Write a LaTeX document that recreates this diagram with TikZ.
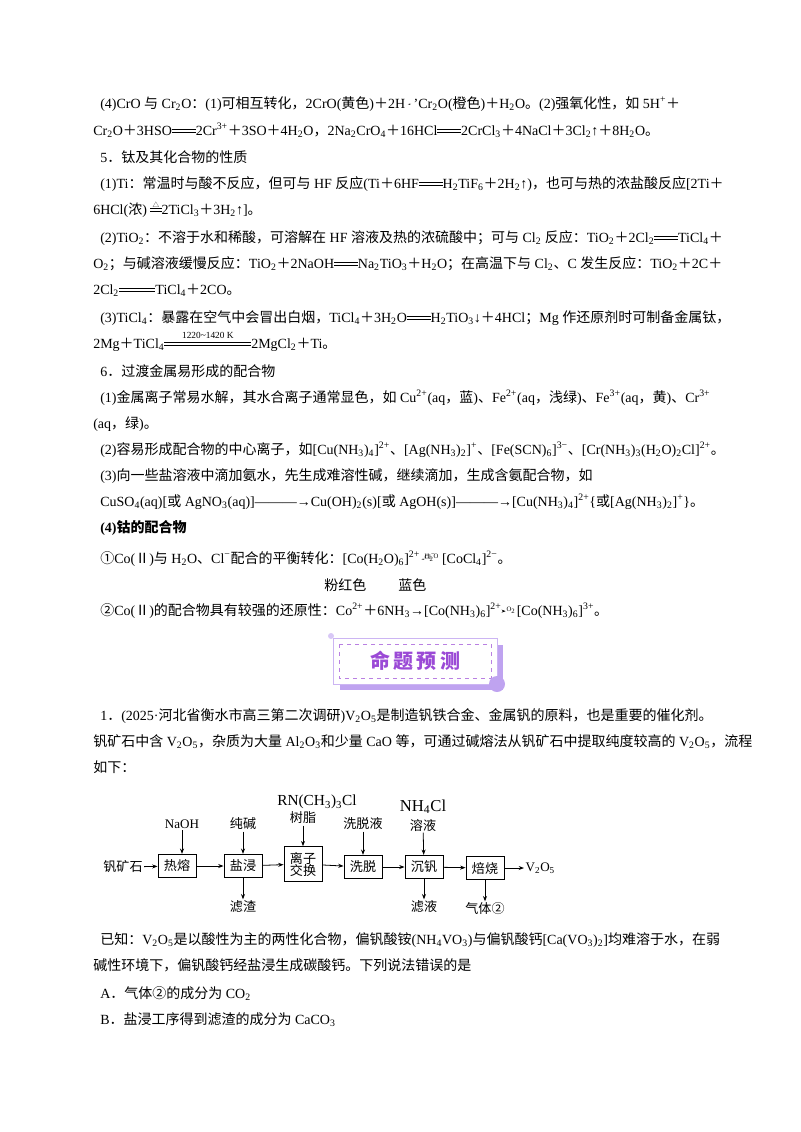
\documentclass[tikz,border=0pt]{standalone}
\usepackage{fontspec}
\usetikzlibrary{arrows.meta}
\setmainfont{Liberation Serif}
\newfontfamily\cjk{Noto Sans CJK SC}
\newXeTeXintercharclass\cjkclass
\newcount\cc
\newcommand\setcjkrange[2]{\cc=#1 \loop\XeTeXcharclass\cc=\cjkclass\relax\ifnum\cc<#2 \advance\cc by 1 \repeat}
\setcjkrange{"3000}{"303F}
\setcjkrange{"4E00}{"9FFF}
\setcjkrange{"FF00}{"FFEF}
\setcjkrange{"2460}{"24FF}
\setcjkrange{"2160}{"216F}
\setcjkrange{"25B3}{"25B3}
\XeTeXinterchartoks 0 \cjkclass = {\cjk}
\XeTeXinterchartoks 4095 \cjkclass = {\cjk}
\XeTeXinterchartoks \cjkclass 0 = {\rmfamily}
\XeTeXinterchartoks \cjkclass 4095 = {\rmfamily}
\XeTeXinterchartoks 4095 0 = {\rmfamily}
\newcommand\dn[1]{\textsubscript{#1}}
\newcommand\up[1]{\textsuperscript{#1}}
\newcommand\pl{{\cjk ＋}}
\newcommand\dbl[1][1.7em]{\raisebox{0.2em}{\rlap{\rule{#1}{0.45pt}}\raisebox{0.22em}{\rule{#1}{0.45pt}}}}
\newcommand\lbleq[2]{\raisebox{0.2em}{\shortstack{{\scriptsize #2}\\[-1pt]\rlap{\rule{#1}{.45pt}}\raisebox{.22em}{\rule{#1}{.45pt}}}}}
\newcommand\heat{\raisebox{0.2em}{\shortstack{{\cjk\tiny △}\\[-3pt]\rlap{\rule{0.8em}{.45pt}}\raisebox{.22em}{\rule{0.8em}{.45pt}}}}}
\newcommand\eqm{\tikz[baseline=-0.6ex]{\draw[line width=.5pt] (0,.05)--(.75,.05)--(.62,.12); \draw[line width=.5pt] (.75,-.03)--(0,-.03)--(.13,-.1);}}
\newcommand\eqCl{\tikz[baseline=-0.6ex]{\draw[line width=.5pt] (0,.05)--(.75,.05)--(.62,.12); \draw[line width=.5pt] (.75,-.03)--(0,-.03)--(.13,-.1);\node[font=\tiny,inner sep=1pt] at (.38,.25){Cl\up{−}};\node[font=\tiny,inner sep=1pt] at (.38,-.2){H\dn2O};}}
\newcommand\arrO{\tikz[baseline=-0.6ex]{\draw[line width=.5pt,-{Stealth[length=3pt]}] (0,0)--(1.1,0);\node[font=\tiny,inner sep=1pt] at (.55,.15){O\dn2};}}
\definecolor{bpurple}{HTML}{9B4AD6}
\definecolor{bshadow}{HTML}{BFA3F0}
\tikzset{
 txt/.style={anchor=base west,inner sep=0pt,font=\fontsize{10.5}{12}\selectfont},
 fc/.style={font=\fontsize{9.8}{11}\selectfont,inner sep=1pt},
 fbox/.style={draw,line width=0.7pt,minimum width=28.5pt,minimum height=17.5pt,inner sep=1pt,font=\fontsize{9.8}{11}\selectfont,align=center},
 farr/.style={line width=0.6pt,-{Stealth[length=4pt,width=3pt]}}
}
\begin{document}
\XeTeXinterchartokenstate=1
\begin{tikzpicture}[x=0.75pt,y=-0.75pt]
\useasboundingbox (0,0) rectangle (800,1132);
\node[txt] (l1) at (100,108) {(4)CrO 与 Cr\dn2O：(1)可相互转化，2CrO(黄色)\pl 2H \eqm\ 'Cr\dn2O(橙色)\pl H\dn2O。(2)强氧化性，如 5H\up+\pl};
\node[txt] (l2) at (93,135) {Cr\dn2O\pl 3HSO\dbl2Cr\up{3+}\pl 3SO\pl 4H\dn2O，2Na\dn2CrO\dn4\pl 16HCl\dbl2CrCl\dn3\pl 4NaCl\pl 3Cl\dn2↑\pl 8H\dn2O。};
\node[txt] (l3) at (100,162) {5．钛及其化合物的性质};
\node[txt] (l4) at (100,188) {(1)Ti：常温时与酸不反应，但可与 HF 反应(Ti\pl 6HF\dbl H\dn2TiF\dn6\pl 2H\dn2↑)，也可与热的浓盐酸反应[2Ti\pl};
\node[txt] (l5) at (93,214) {6HCl(浓) \heat2TiCl\dn3\pl 3H\dn2↑]。};
\node[txt] (l6) at (100,242) {(2)TiO\dn2：不溶于水和稀酸，可溶解在 HF 溶液及热的浓硫酸中；可与 Cl\dn2 反应：TiO\dn2\pl 2Cl\dn2\dbl TiCl\dn4\pl};
\node[txt] (l7) at (93,268) {O\dn2；与碱溶液缓慢反应：TiO\dn2\pl 2NaOH\dbl Na\dn2TiO\dn3\pl H\dn2O；在高温下与 Cl\dn2、C 发生反应：TiO\dn2\pl 2C\pl};
\node[txt] (l8) at (93,294) {2Cl\dn2\dbl[2.6em]TiCl\dn4\pl 2CO。};
\node[txt] (l9) at (100,322) {(3)TiCl\dn4：暴露在空气中会冒出白烟，TiCl\dn4\pl 3H\dn2O\dbl H\dn2TiO\dn3↓\pl 4HCl；Mg 作还原剂时可制备金属钛，};
\node[txt] (l10) at (93,348) {2Mg\pl TiCl\dn4\lbleq{6.2em}{1220\char`\~1420 K}2MgCl\dn2\pl Ti。};
\node[txt] (l11) at (100,376) {6．过渡金属易形成的配合物};
\node[txt] (l12) at (100,402) {(1)金属离子常易水解，其水合离子通常显色，如 Cu\up{2+}(aq，蓝)、Fe\up{2+}(aq，浅绿)、Fe\up{3+}(aq，黄)、Cr\up{3+}};
\node[txt] (l13) at (93,428) {(aq，绿)。};
\node[txt] (l14) at (100,454) {(2)容易形成配合物的中心离子，如[Cu(NH\dn3)\dn4]\up{2+}、[Ag(NH\dn3)\dn2]\up{+}、[Fe(SCN)\dn6]\up{3−}、[Cr(NH\dn3)\dn3(H\dn2O)\dn2Cl]\up{2+}。};
\node[txt] (l15) at (100,480) {(3)向一些盐溶液中滴加氨水，先生成难溶性碱，继续滴加，生成含氨配合物，如};
\node[txt] (l16) at (100,506) {CuSO\dn4(aq)[或 AgNO\dn3(aq)]———→Cu(OH)\dn2(s)[或 AgOH(s)]———→[Cu(NH\dn3)\dn4]\up{2+}\{或[Ag(NH\dn3)\dn2]\up+\}。};
\node[txt,font=\fontsize{10.5}{12}\selectfont\bfseries] (l17) at (100,532) {(4)钴的配合物};
\node[txt] (l18) at (100,563) {①Co(Ⅱ)与 H\dn2O、Cl\up{−}配合的平衡转化：[Co(H\dn2O)\dn6]\up{2+}\,\eqCl\,[CoCl\dn4]\up{2−}。};
\node[txt] (l19a) at (324,590) {粉红色};
\node[txt] (l19b) at (398,590) {蓝色};
\node[txt] (l20) at (100,615) {②Co(Ⅱ)的配合物具有较强的还原性：Co\up{2+}\pl 6NH\dn3→[Co(NH\dn3)\dn6]\up{2+}\arrO[Co(NH\dn3)\dn6]\up{3+}。};
% banner
\fill[bshadow] (340,645) rectangle (503,690);
\fill[white] (333,638) rectangle (497,684);
\draw[bshadow!80,line width=0.6pt] (333,638) rectangle (497,684);
\draw[bpurple!70,dashed,line width=0.5pt] (339,644) rectangle (491,678);
\fill[bshadow] (497,684) circle (8);
\fill[bshadow!60] (331,636) circle (3);
\node[font=\cjk\fontsize{15}{16}\selectfont\bfseries,text=bpurple] (ban) at (415,661) {命\,题\,预\,测};
% question
\node[txt] (q1) at (100,720) {1．(2025·河北省衡水市高三第二次调研)V\dn2O\dn5是制造钒铁合金、金属钒的原料，也是重要的催化剂。};
\node[txt] (q2) at (93,746) {钒矿石中含 V\dn2O\dn5，杂质为大量 Al\dn2O\dn3和少量 CaO 等，可通过碱熔法从钒矿石中提取纯度较高的 V\dn2O\dn5，流程};
\node[txt] (q3) at (93,772) {如下：};
% flowchart
\node[fc] (ore) at (123,867) {钒矿石};
\node[fbox] (b1) at (177,866) {热熔};
\node[fbox] (b2) at (243,866) {盐浸};
\node[fbox,minimum height=26pt] (b3) at (303,864) {离子\\[-2pt]交换};
\node[fbox] (b4) at (363,867) {洗脱};
\node[fbox] (b5) at (424,867) {沉钒};
\node[fbox] (b6) at (485,868) {焙烧};
\node[fc,anchor=west] (v) at (524,868) {V\dn2O\dn5};
\node[fc] (naoh) at (182,824) {NaOH};
\node[fc] (jj) at (243,824) {纯碱};
\node[fc,font=\fontsize{11.5}{12}\selectfont] (rn) at (317,802) {RN(CH\dn3)\dn3Cl};
\node[fc] (sz) at (303,818) {树脂};
\node[fc] (xtl) at (363,824) {洗脱液};
\node[fc,font=\fontsize{12.5}{13}\selectfont] (nh) at (423,807) {NH\dn4Cl};
\node[fc] (ry) at (423,825) {溶液};
\node[fc] (lz) at (243,907) {滤渣};
\node[fc] (ly) at (424,907) {滤液};
\node[fc] (qt) at (485,909) {气体②};
\draw[farr] (ore) -- (b1);
\draw[farr] (b1) -- (b2);
\draw[farr] (b2) -- (b3);
\draw[farr] (b3) -- (b4);
\draw[farr] (b4) -- (b5);
\draw[farr] (b5) -- (b6);
\draw[farr] (b6) -- (v);
\draw[farr] (naoh) -- (b1.north -| naoh);
\draw[farr] (jj) -- (b2);
\draw[farr] (sz) -- (b3.north -| sz);
\draw[farr] (xtl) -- (b4);
\draw[farr] (ry) -- (b5);
\draw[farr] (b2) -- (lz);
\draw[farr] (b5) -- (ly);
\draw[farr] (b6) -- (qt);
% known
\node[txt] (k1) at (100,944) {已知：V\dn2O\dn5是以酸性为主的两性化合物，偏钒酸铵(NH\dn4VO\dn3)与偏钒酸钙[Ca(VO\dn3)\dn2]均难溶于水，在弱};
\node[txt] (k2) at (93,970) {碱性环境下，偏钒酸钙经盐浸生成碳酸钙。下列说法错误的是};
\node[txt] (ka) at (100,998) {A．气体②的成分为 CO\dn2};
\node[txt] (kb) at (100,1024) {B．盐浸工序得到滤渣的成分为 CaCO\dn3};
\end{tikzpicture}
\end{document}
